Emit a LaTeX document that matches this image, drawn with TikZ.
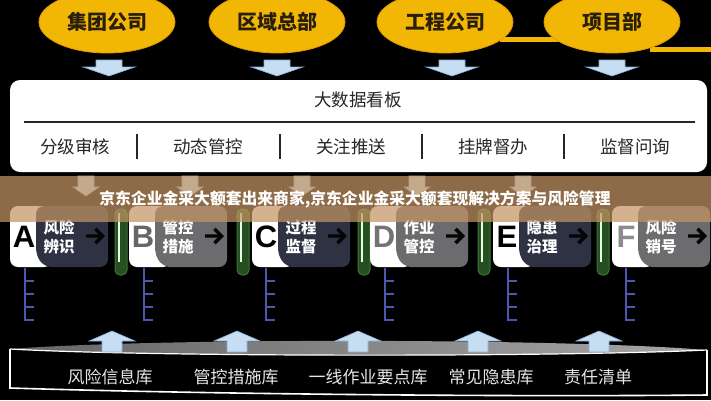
\documentclass[tikz,border=0pt]{standalone}
\usepackage{fontspec}
\newfontfamily\cjk{Noto Sans CJK SC}
\newfontfamily\latb{Liberation Sans}
\usetikzlibrary{arrows.meta,shapes.geometric}
\definecolor{gold}{HTML}{F2B705}
\definecolor{goldE}{HTML}{E09A00}
\definecolor{abl}{HTML}{C6DDF2}
\definecolor{ablE}{HTML}{86AED6}
\definecolor{slateC}{HTML}{2E3242}
\definecolor{greyC}{HTML}{6C6C6E}
\definecolor{grn}{HTML}{264F22}
\definecolor{grnE}{HTML}{3C7436}
\definecolor{comb}{HTML}{4A58B0}
\definecolor{bannerC}{RGB}{197,149,100}
\definecolor{txtL}{HTML}{E6E6E6}
\definecolor{arrK}{HTML}{050505}
\begin{document}
\begin{tikzpicture}[x=1pt,y=-1pt,
  org/.style={ellipse, fill=gold, draw=goldE, line width=0.8pt, minimum width=136pt, minimum height=62pt, inner sep=0pt,
    font=\cjk\bfseries\fontsize{20}{24}\selectfont, text={rgb,255:red,40;green,30;blue,10}},
  item/.style={font=\cjk\fontsize{17.5}{20}\selectfont, text=black!85},
  cardtxt/.style={font=\cjk\bfseries\fontsize{15.5}{19}\selectfont, text=white, align=center},
  letter/.style={font=\latb\bfseries\fontsize{31}{31}\selectfont},
  libtxt/.style={font=\cjk\fontsize{17}{20}\selectfont, text=txtL},
  downarr/.style={fill=abl, draw=ablE, line width=0.6pt},
]
\useasboundingbox (0,0) rectangle (711,400);
\fill[black] (0,0) rectangle (711,400);

% orange connectors (behind the ellipses)
\coordinate (o1) at (500,39.5);
\coordinate (o2) at (560,39.5);
\coordinate (o3) at (650,49.5);
\coordinate (o4) at (711,49.5);
\draw[gold, line width=5pt] (o1) -- (o2);
\draw[gold, line width=5pt] (o3) -- (o4);

% top organisations
\node[org] (g1) at (107,22) {\raisebox{-5pt}{集团公司}};
\node[org] (g2) at (277,22) {\raisebox{-5pt}{区域总部}};
\node[org] (g3) at (445,22) {\raisebox{-5pt}{工程公司}};
\node[org] (g4) at (612,22) {\raisebox{-5pt}{项目部}};

% blue down arrows
\foreach \c in {109,277,452,612}{
  \draw[downarr] (\c-13,60) -- (\c+13,60) -- (\c+13,67) -- (\c+26,67) -- (\c,76) -- (\c-26,67) -- (\c-13,67) -- cycle;
}

% dashboard
\node[fill=white, rounded corners=10pt, minimum width=697pt, minimum height=92pt, inner sep=0pt] (board) at (358.5,126) {};
\node[item] (title) at (358,100) {大数据看板};
\coordinate (hl) at (24,122);
\coordinate (hr) at (695,122);
\draw[line width=1.8pt, black!85] (hl) -- (hr);
\node[item] (i1) at (75,147) {分级审核};
\node[item] (i2) at (208,147) {动态管控};
\node[item] (i3) at (351,147) {关注推送};
\node[item] (i4) at (493,147) {挂牌督办};
\node[item] (i5) at (635,147) {监督问询};
\foreach \s in {137,280,422,564}{
  \draw[line width=2pt, black!85] (\s,134) -- (\s,159);
}

% faint arrows hidden by the banner
\foreach \c in {86,190,302,417,523}{
  \draw[downarr] (\c-8,176) -- (\c+8,176) -- (\c+8,187) -- (\c+13,187) -- (\c,196) -- (\c-13,187) -- (\c-8,187) -- cycle;
}

% green bars
\foreach \c in {121,243,364,484,603}{
  \draw[fill=grn, draw=grnE, line width=1pt, rounded corners=5pt] (\c-6,209) rectangle (\c+6,275);
  \draw[green!10!white, line width=1.3pt] (\c-2,213) -- (\c-2,262);
}

% cards
\foreach \x/\L/\ta/\tb/\dk/\lc [count=\i] in
  {10/A/风险/辨识/slateC/black,
   129/B/管控/措施/greyC/black!60,
   252/C/过程/监督/slateC/black,
   370/D/作业/管控/greyC/black!55,
   493/E/隐患/治理/slateC/black,
   612/F/风险/销号/greyC/black!45}{
  \fill[white, rounded corners=8pt] (\x,206) rectangle (\x+42,267);
  \fill[\dk] [rounded corners=8pt] (\x+40,267) -- (\x+98,267) -- (\x+98,206) -- (\x+26,206) [sharp corners] -- (\x+26,246)
      .. controls (\x+26,258) and (\x+31,265) .. (\x+40,267) -- cycle;
  \node[letter, text=\lc] (L\i) at (\x+14,237) {\L};
  \node[cardtxt] (T\i) at (\x+49,237.5) {\ta\\\tb};
  \fill[arrK] (\x+76,234.3) -- (\x+88.5,234.3) -- (\x+84.3,230.1) -- (\x+86.7,227.7) -- (\x+95,236) -- (\x+86.7,244.3)
      -- (\x+84.3,241.9) -- (\x+88.5,237.7) -- (\x+76,237.7) -- cycle;
}

% combs
\foreach \c in {25,144,266,385,508,626}{
  \draw[comb, line width=1.4pt] (\c,268) -- (\c,321);
  \foreach \t in {281,294,307,320}{
    \draw[comb, line width=1.4pt] (\c,\t) -- (\c+9,\t);
  }
}

% banner
\fill[bannerC, opacity=0.72] (0,176) rectangle (711,222);
\node[font=\cjk\bfseries\fontsize{15.8}{18}\selectfont, text=white] (banner) at (355,199)
  {京东企业金采大额套出来商家,京东企业金采大额套现解决方案与风险管理};

% bottom disk
\draw[white, line width=1.6pt, fill=black] (10,349) -- (10,388) .. controls (200,394) and (500,397) .. (707,395) -- (707,350);
\shade[left color=black!60, right color=black!35] (10,349) .. controls (150,338) and (560,338) .. (707,350)
   .. controls (560,357) and (150,357) .. (10,349) -- cycle;
\draw[white, line width=1.2pt] (10,349) .. controls (150,357) and (560,357) .. (707,350);
\foreach \c in {112,237,358,478,599}{
  \draw[downarr] (\c-10,352) -- (\c-10,341) -- (\c-23,341) -- (\c,331) -- (\c+23,341) -- (\c+10,341) -- (\c+10,352) -- cycle;
}
\node[libtxt] (b1) at (110,377) {风险信息库};
\node[libtxt] (b2) at (236,377) {管控措施库};
\node[libtxt] (b3) at (368,377) {一线作业要点库};
\node[libtxt] (b4) at (491,377) {常见隐患库};
\node[libtxt] (b5) at (598,377) {责任清单};
\end{tikzpicture}
\end{document}
